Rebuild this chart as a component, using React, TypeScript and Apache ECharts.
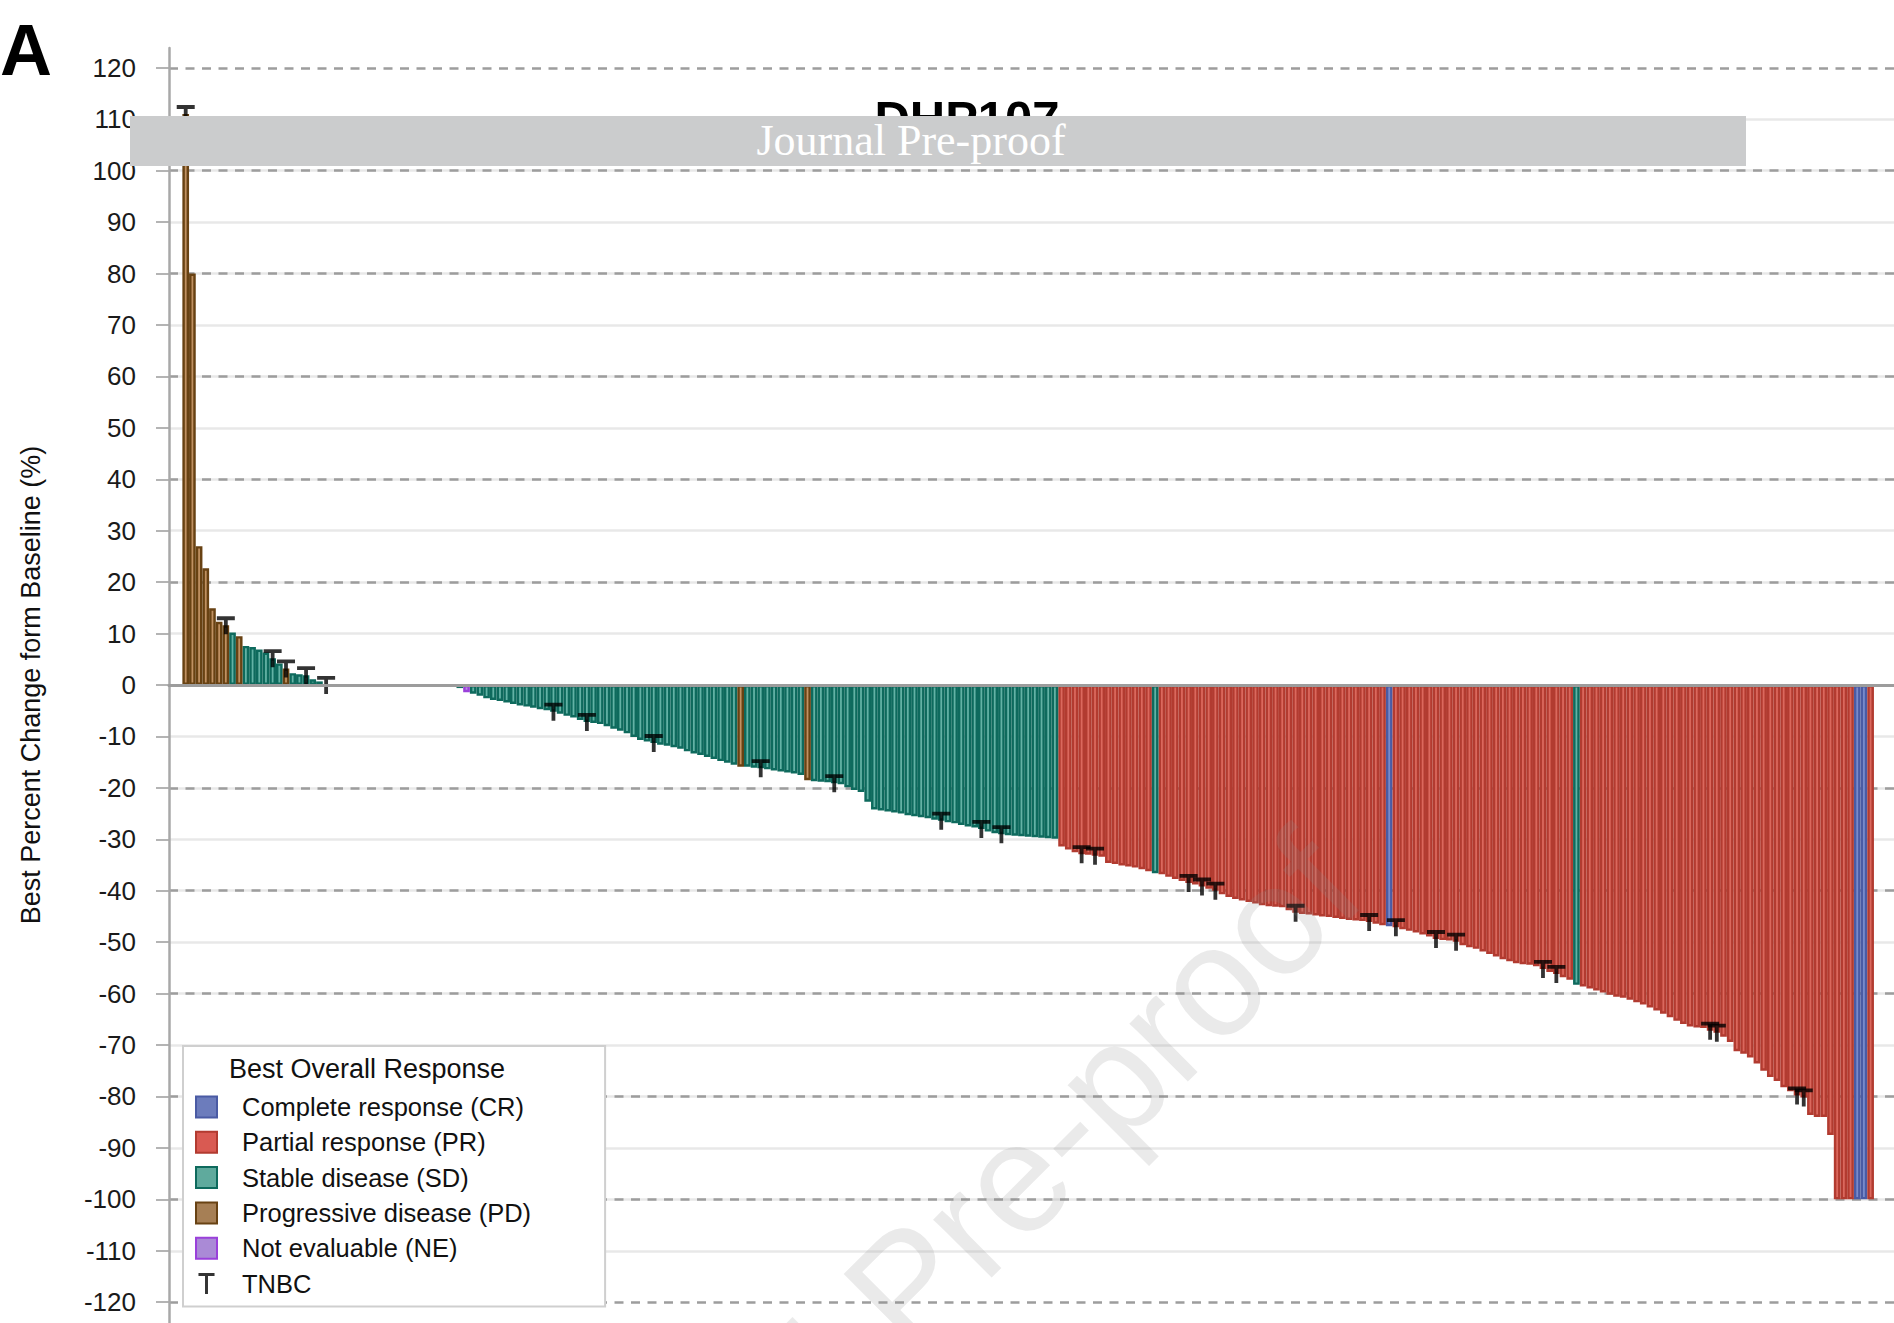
import React, { useEffect, useRef } from "react";
import * as echarts from "echarts";

// Best percent change from baseline, one bar per patient, left to right
const PCT_CHANGE: number[] = [
  111, 80, 27, 22.7, 14.9, 12.3, 11.6, 10.2, 9.5, 7.6,
  7.4, 6.9, 6.3, 5.2, 4.2, 3.2, 2.3, 2.1, 1.9, 1.1,
  0.7, 0, 0, 0, 0, 0, 0, 0, 0, 0,
  0, 0, 0, 0, 0, 0, 0, 0, 0, 0,
  0, -0.6, -1.4, -1.7, -2.1, -2.6, -2.9, -3.1, -3.4, -3.7,
  -4.0, -4.2, -4.4, -4.7, -4.9, -5.2, -5.6, -6.0, -6.3, -6.8,
  -7.2, -7.4, -7.6, -8.0, -8.5, -8.9, -9.4, -10.1, -10.7, -11.0,
  -11.3, -11.6, -11.8, -12.1, -12.4, -12.9, -13.3, -13.6, -14.0, -14.4,
  -14.8, -15.1, -15.5, -15.9, -15.9, -16.1, -16.2, -16.4, -16.6, -16.8,
  -17.0, -17.2, -17.5, -18.5, -18.7, -18.8, -18.9, -19.1, -19.3, -19.9,
  -20.4, -20.8, -22.7, -24.2, -24.4, -24.6, -24.8, -25.0, -25.3, -25.5,
  -25.7, -25.9, -26.2, -26.4, -26.7, -26.9, -27.2, -27.5, -27.7, -28.0,
  -28.5, -28.8, -29.0, -29.2, -29.3, -29.4, -29.5, -29.6, -29.7, -29.8,
  -29.9, -31.4, -32.0, -32.5, -32.9, -33.0, -33.2, -33.4, -34.6, -34.8,
  -35.1, -35.3, -35.5, -35.8, -36.2, -36.6, -36.8, -37.3, -37.7, -38.1,
  -38.5, -38.8, -39.2, -39.6, -40.0, -40.7, -41.2, -41.6, -41.9, -42.2,
  -42.5, -42.8, -43.0, -43.1, -43.2, -43.8, -44.3, -44.5, -44.6, -44.8,
  -45.0, -45.1, -45.3, -45.5, -45.7, -45.8, -45.9, -46.1, -46.4, -46.7,
  -46.9, -47.1, -47.5, -47.8, -48.1, -48.5, -48.9, -49.4, -49.6, -49.7,
  -49.9, -50.6, -51.0, -51.3, -51.8, -52.3, -52.8, -53.3, -53.7, -54.1,
  -54.3, -54.4, -54.7, -55.2, -55.8, -56.2, -56.8, -57.3, -58.3, -58.6,
  -59.0, -59.4, -59.8, -60.2, -60.6, -60.8, -61.2, -61.7, -62.1, -62.7,
  -63.3, -63.9, -64.6, -65.3, -65.9, -66.4, -66.6, -66.7, -67.2, -67.6,
  -68.4, -69.4, -71.2, -71.7, -72.4, -73.6, -75.0, -76.2, -77.0, -78.2,
  -79.0, -79.8, -80.2, -83.6, -84.0, -84.0, -87.5, -100, -100, -100,
  -100, -100, -100,
];

// Best overall response per bar, ten per row: C=CR, P=PR, S=SD, D=PD, N=NE
const RESPONSE_CODES: string[] = [
  "DDDDDDDSDS", "SSSSSDSSSS", "SSSSSSSSSS", "SSSSSSSSSS", "SSNSSSSSSS",
  "SSSSSSSSSS", "SSSSSSSSSS", "SSSSSSSSSS", "SSSDSSSSSS", "SSSDSSSSSS",
  "SSSSSSSSSS", "SSSSSSSSSS", "SSSSSSSSSS", "SPPPPPPPPP", "PPPPPSPPPP",
  "PPPPPPPPPP", "PPPPPPPPPP", "PPPPPPPPPP", "CPPPPPPPPP", "PPPPPPPPPP",
  "PPPPPPPPSP", "PPPPPPPPPP", "PPPPPPPPPP", "PPPPPPPPPP", "PPPPPPPPPP",
  "CCP",
];

// bars flagged as TNBC (T marker)
const TNBC_INDEX: number[] = [
  0, 6, 13, 15, 18, 21, 55, 60, 70, 86, 97, 113, 119, 122,
  134, 136, 150, 152, 154, 166, 177, 181, 187, 190, 203, 205, 228, 229, 241, 242,
];

const Y_TICKS: number[] = [
  -120, -110, -100, -90, -80, -70, -60, -50, -40, -30, -20, -10, 0,
  10, 20, 30, 40, 50, 60, 70, 80, 90, 100, 110, 120,
];

const RESPONSES = [
  { code: "C", name: "Complete response (CR)", fill: "#7a8bcb", edge: "#4a5ba4", legend: "#6c7cbc" },
  { code: "P", name: "Partial response (PR)", fill: "#db685d", edge: "#b23b30", legend: "#d95a52" },
  { code: "S", name: "Stable disease (SD)", fill: "#63b2a5", edge: "#0e6a5d", legend: "#5faa9d" },
  { code: "D", name: "Progressive disease (PD)", fill: "#c09162", edge: "#684213", legend: "#a67f55" },
  { code: "N", name: "Not evaluable (NE)", fill: "#bb8fe6", edge: "#9a40da", legend: "#aa8ad6" },
];

const FONT = "'Liberation Sans', Arial, Helvetica, sans-serif";
const T_SYMBOL = "path://M0,0H18V3.8H10.9V18H7.1V3.8H0Z";
const T_LEGEND = "path://M0,0H13V2.4H7.7V17H5.3V2.4H0Z";

// page is 1894x1323; chart div sticks out 40px above so the +-140 grid fits
const W = 1894;
const VIEW_H = 1323;
const OFF = 40;
const CHART_H = 1450;
const ZERO_Y = 685 + OFF;
const PX = 617.2 / 120; // px per percent
const PAD_L = 2;
const PAD_R = 3;

export default function App() {
  const ref = useRef<HTMLDivElement>(null);

  useEffect(() => {
    if (!ref.current) return;
    const chart = echarts.init(ref.current, undefined, { renderer: "svg" });

    const codes = RESPONSE_CODES.join("");
    const n = PCT_CHANGE.length;
    const pad = (arr: any[]) => [
      ...Array(PAD_L).fill("-"),
      ...arr,
      ...Array(PAD_R).fill("-"),
    ];
    const categories = Array.from({ length: PAD_L + n + PAD_R }, (_, i) => String(i));

    const mainTop = ZERO_Y - 130 * PX;
    const mainBottom = CHART_H - (ZERO_Y + 130 * PX);
    const dashTop = ZERO_Y - 140 * PX;
    const dashBottom = CHART_H - (ZERO_Y + 140 * PX);

    // echarts keeps the border inside the bar, so a thin border leaves a light stripe
    const barSeries = RESPONSES.map((r) => ({
      type: "bar",
      name: r.name,
      stack: "bor",
      xAxisIndex: 0,
      yAxisIndex: 0,
      barCategoryGap: "0%",
      itemStyle: { color: r.fill, borderColor: r.edge, borderWidth: 2.45 },
      data: pad(PCT_CHANGE.map((v, i) => (codes[i] === r.code && v !== 0 ? v : "-"))),
    }));

    const option: any = {
      animation: false,
      backgroundColor: "#ffffff",
      textStyle: { fontFamily: FONT },
      grid: [
        { left: 169, right: 0, top: mainTop, bottom: mainBottom },
        { left: 169, right: 0, top: dashTop, bottom: dashBottom },
        { left: 169, right: 0, top: 48 + OFF, bottom: 0 },
      ],
      xAxis: [
        {
          type: "category",
          gridIndex: 0,
          data: categories,
          z: 10,
          axisLine: { onZero: true, lineStyle: { color: "#9c9c9c", width: 3 } },
          axisTick: { show: false },
          axisLabel: { show: false },
          splitLine: { show: false },
        },
        { type: "value", gridIndex: 1, show: false, min: 0, max: 1 },
        { type: "value", gridIndex: 2, show: false, min: 0, max: 1 },
      ],
      yAxis: [
        {
          type: "value",
          gridIndex: 0,
          min: -130,
          max: 130,
          interval: 10,
          axisLine: { show: false },
          axisTick: {
            show: true,
            length: 13,
            customValues: Y_TICKS,
            lineStyle: { color: "#b4b4b4", width: 2 },
          },
          axisLabel: {
            margin: 33,
            fontSize: 26,
            color: "#1a1a1a",
            fontFamily: FONT,
            customValues: Y_TICKS,
          },
          splitLine: {
            show: true,
            showMaxLine: false,
            showMinLine: false,
            lineStyle: { color: "#e8e8e8", width: 2.5 },
          },
          name: "Best Percent Change form Baseline (%)",
          nameLocation: "middle",
          nameRotate: 90,
          nameGap: 125,
          nameTextStyle: { fontSize: 27, color: "#111", fontFamily: FONT },
        },
        {
          type: "value",
          gridIndex: 1,
          min: -140,
          max: 140,
          interval: 20,
          z: 1,
          axisLine: { show: false },
          axisTick: { show: false },
          axisLabel: { show: false },
          splitLine: {
            show: true,
            lineStyle: { color: "#9d9d9d", width: 2.5, type: [9, 7.5] },
          },
        },
        {
          type: "value",
          gridIndex: 2,
          min: 0,
          max: 1,
          z: 3,
          axisLine: { show: true, onZero: false, lineStyle: { color: "#a8a8a8", width: 2.5 } },
          axisTick: { show: false },
          axisLabel: { show: false },
          splitLine: { show: false },
        },
      ],
      legend: {
        orient: "vertical",
        left: 183,
        top: 1046 + OFF,
        padding: [48, 74, 10, 12],
        backgroundColor: "#ffffff",
        borderColor: "#cfcfcf",
        borderWidth: 2,
        itemWidth: 21,
        itemHeight: 21,
        itemGap: 9.3,
        selectedMode: false,
        textStyle: {
          fontSize: 25.5,
          lineHeight: 26,
          color: "#111",
          fontFamily: FONT,
          padding: [0, 0, 0, 20],
        },
        data: [
          ...RESPONSES.map((r) => ({
            name: r.name,
            icon: "rect",
            itemStyle: { color: r.legend, borderColor: r.edge, borderWidth: 2 },
          })),
          { name: "TNBC", icon: T_LEGEND, itemStyle: { color: "#000", borderWidth: 0 } },
        ],
      },
      graphic: [
        {
          type: "text",
          x: 0,
          y: 50 + OFF,
          z: 100,
          style: {
            text: "A",
            fontSize: 72,
            fontWeight: "bold",
            fontFamily: FONT,
            fill: "#000",
            align: "left",
            verticalAlign: "middle",
            textAlign: "left",
            textVerticalAlign: "middle",
          },
        },
        {
          type: "text",
          x: 967,
          y: 117.5 + OFF,
          z: 100,
          style: {
            text: "DHP107",
            fontSize: 49,
            fontWeight: "bold",
            fontFamily: FONT,
            fill: "#000",
            align: "center",
            verticalAlign: "middle",
            textAlign: "center",
            textVerticalAlign: "middle",
          },
        },
        {
          type: "rect",
          z: 101,
          shape: { x: 130, y: 116 + OFF, width: 1616, height: 50 },
          style: { fill: "#cbcccd" },
        },
        {
          type: "text",
          x: 911,
          y: 140 + OFF,
          z: 102,
          style: {
            text: "Journal Pre-proof",
            fontSize: 44,
            fontFamily: "'Liberation Serif', 'Times New Roman', serif",
            fill: "#ffffff",
            align: "center",
            verticalAlign: "middle",
            textAlign: "center",
            textVerticalAlign: "middle",
          },
        },
        {
          type: "text",
          x: 1332,
          y: 861 + OFF,
          z: 50,
          rotation: (45 * Math.PI) / 180,
          style: {
            text: "Journal Pre-proof",
            fontSize: 156,
            fontFamily: FONT,
            fill: "rgba(140,140,140,0.18)",
            align: "right",
            verticalAlign: "middle",
            textAlign: "right",
            textVerticalAlign: "middle",
          },
        },
        {
          type: "text",
          x: 367,
          y: 1068.5 + OFF,
          z: 100,
          style: {
            text: "Best Overall Response",
            fontSize: 27,
            fontFamily: FONT,
            fill: "#111",
            align: "center",
            verticalAlign: "middle",
            textAlign: "center",
            textVerticalAlign: "middle",
          },
        },
      ],
      series: [
        ...barSeries,
        {
          type: "scatter",
          name: "TNBC",
          xAxisIndex: 0,
          yAxisIndex: 0,
          symbol: T_SYMBOL,
          symbolSize: [18, 18],
          z: 5,
          itemStyle: { color: "#000" },
          data: pad(PCT_CHANGE.map((v, i) => (TNBC_INDEX.includes(i) ? v : "-"))),
        },
      ],
    };

    chart.setOption(option);
    return () => chart.dispose();
  }, []);

  return (
    <div
      style={{
        position: "fixed",
        left: 0,
        top: 0,
        width: W,
        height: VIEW_H,
        overflow: "hidden",
        background: "#fff",
      }}
    >
      <div
        ref={ref}
        style={{ position: "absolute", left: 0, top: -OFF, width: W, height: CHART_H }}
      />
    </div>
  );
}
